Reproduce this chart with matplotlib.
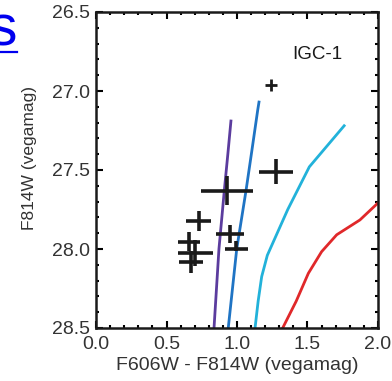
import matplotlib
matplotlib.use('Agg')
import matplotlib.pyplot as plt
from matplotlib.ticker import MultipleLocator

plt.rcParams['font.family'] = ['Liberation Sans', 'DejaVu Sans']

# GC candidates (colour, magnitude, errors)
gc_color = [1.241, 1.274, 0.929, 0.730, 0.950, 0.995, 0.660, 0.705, 0.672]
gc_mag = [26.96, 27.51, 27.63, 27.825, 27.905, 28.0, 27.955, 28.025, 28.08]
gc_xerr = [0.044, 0.12, 0.186, 0.089, 0.097, 0.083, 0.075, 0.124, 0.085]
gc_yerr_lo = [0.037, 0.08, 0.09, 0.063, 0.057, 0.05, 0.06, 0.08, 0.07]
gc_yerr_hi = [0.037, 0.08, 0.09, 0.063, 0.057, 0.01, 0.06, 0.08, 0.07]

# isochrones
iso_purple_x = [0.957, 0.935, 0.910, 0.872, 0.837]
iso_purple_y = [27.19, 27.40, 27.63, 28.00, 28.50]
iso_blue_x = [1.156, 1.147, 1.105, 1.064, 0.998, 0.938]
iso_blue_y = [27.07, 27.12, 27.38, 27.63, 28.00, 28.50]
iso_cyan_x = [1.760, 1.513, 1.360, 1.215, 1.175, 1.150, 1.128]
iso_cyan_y = [27.22, 27.48, 27.75, 28.04, 28.175, 28.33, 28.50]
iso_red_x = [1.324, 1.420, 1.506, 1.600, 1.707, 1.872, 2.010]
iso_red_y = [28.50, 28.33, 28.154, 28.017, 27.91, 27.816, 27.70]

W, H = 392, 381
fig = plt.figure(figsize=(W / 100, H / 100), dpi=100)
ax = fig.add_axes([96 / W, 1 - 328 / H, 282 / W, 316 / H])

ax.plot(iso_purple_x, iso_purple_y, color='#5b3c9e', lw=2)
ax.plot(iso_blue_x, iso_blue_y, color='#1f74c4', lw=2)
ax.plot(iso_cyan_x, iso_cyan_y, color='#22b2da', lw=2)
ax.plot(iso_red_x, iso_red_y, color='#e0282a', lw=2)

for i in range(len(gc_color)):
    lw = 2.0 if i == 0 else 2.6
    ax.errorbar(gc_color[i], gc_mag[i], xerr=gc_xerr[i],
                yerr=[[gc_yerr_lo[i]], [gc_yerr_hi[i]]],
                fmt='none', ecolor='#1a1a1a', elinewidth=lw, capsize=0)

ax.text(1.567, 26.77, 'IGC-1', fontsize=13.5, color='#1a1a1a',
        ha='center', va='center')

ax.set_xlim(0, 2.0)
ax.set_ylim(28.5, 26.5)
ax.xaxis.set_major_locator(MultipleLocator(0.5))
ax.xaxis.set_minor_locator(MultipleLocator(0.1))
ax.yaxis.set_major_locator(MultipleLocator(0.5))
ax.yaxis.set_minor_locator(MultipleLocator(0.1))
ax.xaxis.set_major_formatter(plt.FormatStrFormatter('%.1f'))
ax.yaxis.set_major_formatter(plt.FormatStrFormatter('%.1f'))
ax.tick_params(which='both', direction='in', top=True, right=True,
               labelsize=14, labelcolor='#333333', width=1.5)
ax.tick_params(which='major', length=5)
ax.tick_params(axis='x', which='major', pad=6)
ax.tick_params(axis='y', which='major', pad=4)
ax.tick_params(which='minor', length=2.5)
for s in ax.spines.values():
    s.set_linewidth(1.8)
    s.set_color('#1a1a1a')

fig.text(237.5 / W, 1 - 366 / H, 'F606W - F814W (vegamag)', fontsize=14,
         color='#333333', ha='center', va='center')
fig.text(30 / W, 1 - 158 / H, 'F814W (vegamag)', fontsize=12.5, rotation=90,
         color='#333333', ha='center', va='center')

# cut-off hyperlink letter at top left
fig.text(-0.03, 1 - 45 / H, 's', fontsize=41, color='#0000ee', ha='left', va='baseline')
fig.add_artist(plt.Line2D([0, 17 / W], [1 - 52 / H] * 2, color='#0000ee',
                          lw=1.6, transform=fig.transFigure))

fig.savefig('out.png', dpi=100)
